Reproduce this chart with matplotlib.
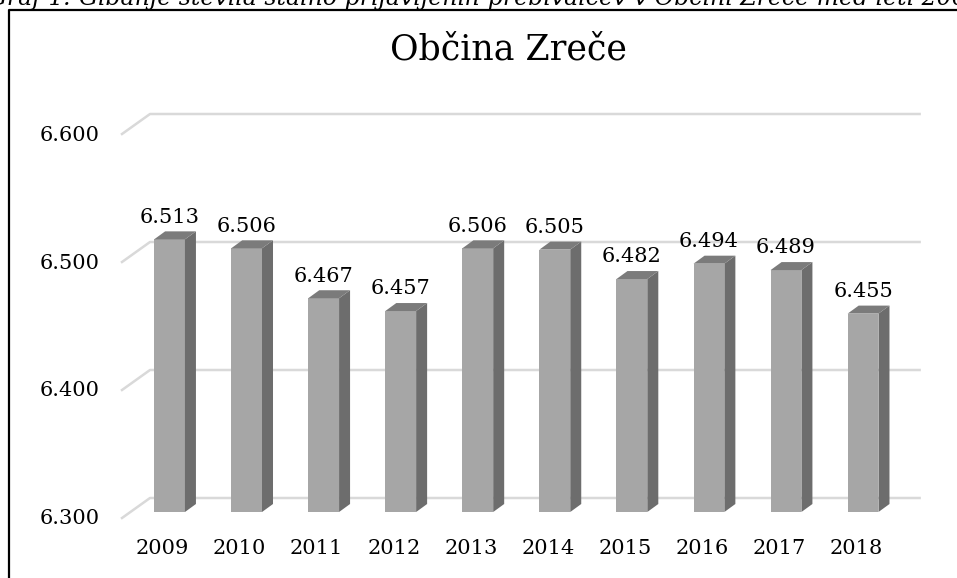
import matplotlib
matplotlib.use('Agg')
import matplotlib.pyplot as plt
from matplotlib.patches import Polygon
from matplotlib.lines import Line2D

# stalno prijavljeni prebivalci, Občina Zreče
years = ['2009', '2010', '2011', '2012', '2013', '2014', '2015', '2016', '2017', '2018']
population = [6513, 6506, 6467, 6457, 6506, 6505, 6482, 6494, 6489, 6455]
y_ticks = [6300, 6400, 6500, 6600]

title = 'Občina Zreče'
caption = ('Graf 1: Gibanje števila stalno prijavljenih prebivalcev '
           'v Občini Zreče med leti 2009 in 2018')

plt.rcParams['font.family'] = 'DejaVu Serif'

W, H = 957, 578
fig = plt.figure(figsize=(W / 100, H / 100), dpi=100)

base = y_ticks[0]
ax = fig.add_axes([131 / W, 1 - 512 / H, 770.6 / W, 384 / H])
ax.set_xlim(-0.5, len(years) - 0.5)
ax.set_ylim(y_ticks[0], y_ticks[-1])
ax.axis('off')

# pixels per data unit, to fake the 3d depth
ux = ax.bbox.width / len(years)
uy = ax.bbox.height / (y_ticks[-1] - y_ticks[0])

grid_col = '#d9d9d9'
x0, x1 = -0.5, len(years) - 0.5
for t in y_ticks:
    bx, by = x0 + 19 / ux, t + 14 / uy
    ax.plot([x0 - 9 / ux, bx, x1 + 18 / ux], [t - 6 / uy, by, by],
            color=grid_col, lw=1.8, clip_on=False, zorder=1)
    ax.text(x0 - 31 / ux, t - 7 / uy, f'{t:,}'.replace(',', '.'),
            ha='right', va='center', fontsize=15)

w = 0.40
dx, dy = 11 / ux, 8 / uy
xs = list(range(len(years)))
ax.bar(xs, [v - base for v in population], bottom=base, width=w,
       color='#a6a6a6', zorder=3)
for i, v in zip(xs, population):
    xl, xr = i - w / 2, i + w / 2
    ax.add_patch(Polygon([(xr, base), (xr, v), (xr + dx, v + dy), (xr + dx, base + dy)],
                         closed=True, color='#6d6d6d', zorder=3, lw=0))
    ax.add_patch(Polygon([(xl, v), (xr, v), (xr + dx, v + dy), (xl + dx, v + dy)],
                         closed=True, color='#7b7b7b', zorder=3, lw=0))
    ax.annotate(f'{v:,}'.replace(',', '.'), (i, v), xytext=(0, 16),
                textcoords='offset points', ha='center', va='center', fontsize=15)

for i, y in zip(xs, years):
    ax.text(i - 7 / ux, base - 37 / uy, y, ha='center', va='center', fontsize=15)

fig.text(508 / W, 1 - 50 / H, title, ha='center', va='center', fontsize=25)
fig.text(-12 / W, 1 - 5 / H, caption, ha='left', va='baseline',
         style='italic', fontsize=17)

fig.add_artist(Line2D([9 / W, 9 / W, 1.01], [-0.01, 1 - 10 / H, 1 - 10 / H],
                      color='black', lw=1.6, transform=fig.transFigure))

fig.savefig('out.png', dpi=100)
